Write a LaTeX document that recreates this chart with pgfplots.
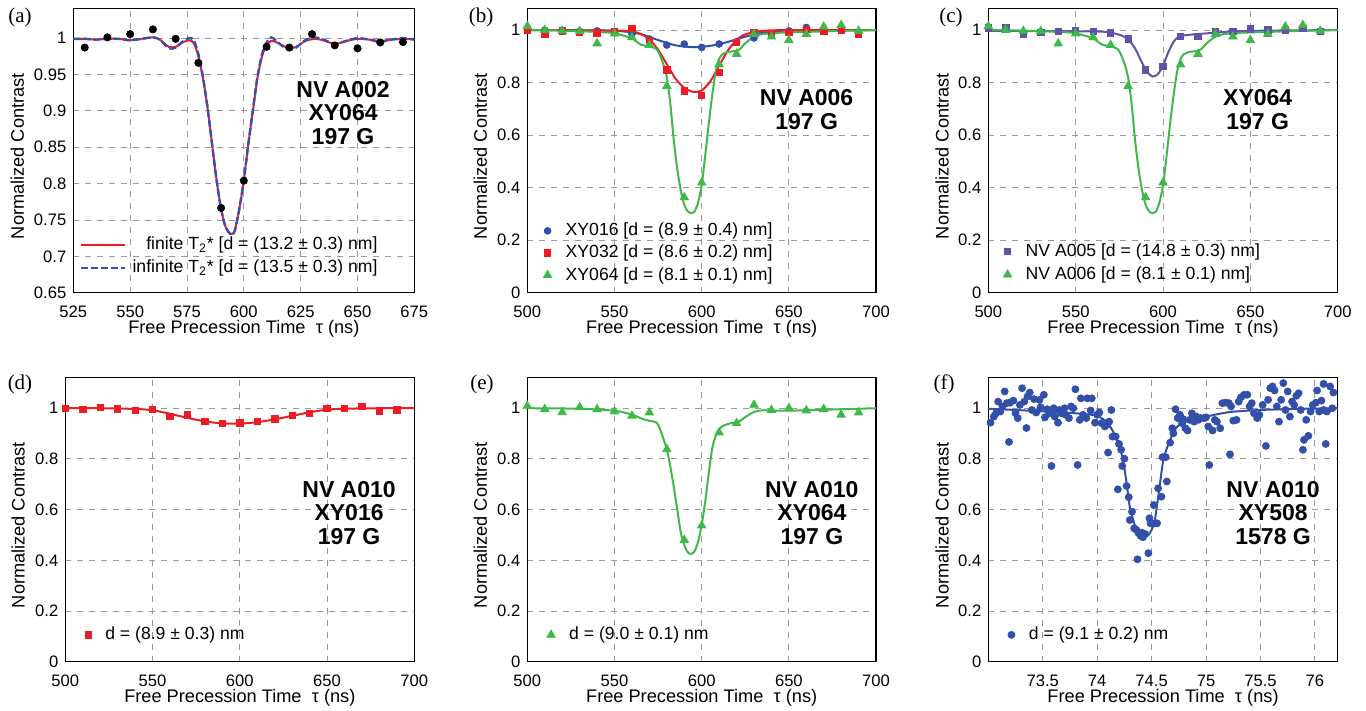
\documentclass[border=0pt]{standalone}
\usepackage{fontspec}
\setmainfont{Liberation Sans}
\newfontfamily\seriffont{Liberation Serif}
\usepackage{pgfplots}
\pgfplotsset{compat=1.18}

\definecolor{cred}{RGB}{237,28,36}
\definecolor{cblue}{RGB}{50,80,170}
\definecolor{cgreen}{RGB}{62,184,72}
\definecolor{cpurple}{RGB}{100,80,170}
\definecolor{cdash}{RGB}{50,80,185}

\tikzset{ann/.style={align=center, font=\fontsize{11.5}{11.8}\selectfont\bfseries}}
\pgfplotsset{
 panel/.style={
  scale only axis, height=142.2pt,
  axis line style={line width=0.7pt},
  grid=major, grid style={dashed, gray!80, line width=0.45pt},
  major tick length=0pt,
  tick label style={font=\fontsize{8.3}{9}\selectfont},
  xticklabel style={yshift=-3pt},
  /pgf/number format/assume math mode=true,
  label style={font=\fontsize{9.1}{10}\selectfont},
  xlabel={Free Precession Time\hspace{0.56em}τ (ns)},
  ylabel={Normalized Contrast},
  xlabel style={at={(axis description cs:0.5,-0.126)}, anchor=center},
  legend style={draw=none, fill=none, font=\fontsize{8.8}{9.5}\selectfont, row sep=2pt, column sep=5pt, anchor=north west, inner sep=0pt, nodes={inner ysep=0.5pt}},
  legend cell align=left,
 },
 fit/.style={line width=1pt, no marks, smooth, tension=0.45},
}

\begin{document}
\begin{tikzpicture}
\path[use as bounding box] (0,0) rectangle (683pt,355.5pt);

% ---------------- (a)
\begin{axis}[panel, at={(36.67pt,209.15pt)}, anchor=south west, width=170.5pt,
  xmin=525, xmax=675, ymin=0.65, ymax=1.041,
  xtick={525,550,575,600,625,650,675},
  ytick={0.65,0.7,0.75,0.8,0.85,0.9,0.95,1},
  ylabel style={at={(axis description cs:-0.164,0.48)}, anchor=center},
  legend style={at={(0.905,0.2)}, anchor=north east, row sep=2.5pt, column sep=1pt},
  legend cell align=right,
  legend image code/.code={\draw[#1] (0pt,0pt) -- (22pt,0pt);}]
\addplot[cred, fit] coordinates {
(525,0.999)(530,0.999)(535,0.998)(540,0.999)(545,0.999)(550,0.997)(555,0.999)(560,1.001)(563,0.998)(567,0.988)(570,0.988)(573,0.994)(576,0.997)(578,0.993)(580,0.975)(582,0.945)(584,0.905)(586,0.855)(588,0.805)(590,0.765)(592,0.740)(594,0.731)(595,0.731)(596,0.735)(598,0.765)(600,0.805)(602,0.855)(604,0.900)(606,0.945)(608,0.975)(610,0.990)(612,0.996)(614,0.995)(617,0.990)(620,0.986)(623,0.988)(627,0.996)(631,0.999)(635,0.997)(640,0.992)(645,0.996)(650,0.999)(655,0.998)(660,0.996)(665,0.998)(670,0.999)(675,0.998)};
\addlegendentry{finite T\textsubscript{2}* [d = (13.2 ± 0.3) nm]}
\addplot[cdash, fit, line width=1.2pt, dash pattern=on 3.5pt off 1.5pt] coordinates {
(525,0.999)(530,0.999)(535,0.998)(540,0.999)(545,0.999)(550,0.997)(555,0.999)(560,1.001)(563,0.998)(567,0.986)(570,0.987)(573,0.995)(576,1.000)(578,0.997)(580,0.978)(582,0.947)(584,0.905)(586,0.855)(588,0.805)(590,0.765)(592,0.740)(594,0.731)(595,0.731)(596,0.735)(598,0.765)(600,0.805)(602,0.855)(604,0.902)(606,0.947)(608,0.978)(610,0.994)(612,1.001)(614,0.997)(617,0.989)(620,0.984)(623,0.987)(627,0.997)(631,1.001)(635,0.998)(640,0.992)(645,0.996)(650,1.000)(655,0.998)(660,0.995)(665,0.998)(670,1.000)(675,0.998)};
\addlegendentry{infinite T\textsubscript{2}* [d = (13.5 ± 0.3) nm]}
\addplot[only marks, mark=*, black, mark size=1.8pt, forget plot] coordinates {
(530,0.987)(540,1.001)(550,1.0055)(560,1.012)(570,0.999)(580,0.966)(590,0.7665)(600,0.804)(610,0.988)(620,0.987)(630,1.0055)(640,0.990)(650,0.986)(660,0.994)(670,0.9945)};
\node[ann] at (rel axis cs:0.791,0.632) {NV A002\\XY064\\197 G};
\end{axis}

% ---------------- (b)
\begin{axis}[panel, at={(263.67pt,209.15pt)}, anchor=south west, width=174.35pt,
  xmin=500, xmax=700, ymin=0, ymax=1.083,
  xtick={500,550,600,650,700}, ytick={0,0.2,0.4,0.6,0.8,1},
  ylabel style={at={(axis description cs:-0.135,0.48)}, anchor=center},
  legend style={at={(0.045,0.25)}, row sep=2.2pt}]
\addplot[cblue, fit, forget plot] coordinates {
(500,1.0)(540,0.999)(555,0.995)(565,0.985)(575,0.962)(585,0.942)(595,0.935)(605,0.940)(615,0.955)(625,0.975)(635,0.990)(645,0.997)(660,1.0)(700,1.0)};
\addplot[cred, fit, forget plot] coordinates {
(500,1.0)(550,0.998)(560,0.995)(565,0.985)(570,0.965)(575,0.925)(580,0.870)(585,0.815)(590,0.780)(595,0.765)(600,0.770)(605,0.805)(610,0.865)(615,0.922)(620,0.962)(625,0.984)(635,0.997)(650,1.0)(700,1.0)};
\addplot[cgreen, fit, forget plot] coordinates {
(500,1.0)(520,0.998)(540,0.993)(550,0.988)(560,0.968)(565,0.945)(570,0.938)(574,0.928)(576,0.905)(578,0.870)(580,0.820)(582,0.720)(584,0.580)(586,0.470)(588,0.390)(590,0.335)(592,0.310)(594,0.303)(596,0.310)(598,0.345)(600,0.410)(602,0.520)(604,0.640)(606,0.750)(608,0.840)(610,0.890)(612,0.908)(615,0.917)(619,0.920)(622,0.928)(625,0.950)(630,0.975)(635,0.985)(645,0.990)(660,0.993)(680,0.997)(700,1.0)};
\addplot[only marks, mark=*, cblue, mark size=1.7pt] coordinates {
(500,1.0)(510,1.0)(520,1.0)(530,0.995)(540,0.997)(550,0.99)(560,0.985)(570,0.966)(580,0.943)(590,0.947)(600,0.934)(610,0.947)(620,0.955)(630,0.97)(640,0.985)(650,0.997)(660,1.01)(670,1.0)(680,1.0)(690,0.99)};
\addlegendentry{XY016 [d = (8.9 ± 0.4) nm]}
\addplot[only marks, mark=square*, cred, mark size=1.6pt] coordinates {
(500,1.0)(510,0.985)(520,0.997)(530,0.991)(540,0.99)(550,0.994)(560,1.006)(570,0.96)(580,0.848)(590,0.769)(600,0.751)(610,0.838)(620,0.952)(630,0.991)(640,0.987)(650,0.991)(660,1.003)(670,0.994)(680,1.0)(690,0.983)};
\addlegendentry{XY032 [d = (8.6 ± 0.2) nm]}
\addplot[only marks, mark=triangle*, cgreen, mark size=2.4pt] coordinates {
(500,1.015)(510,1.0)(520,0.997)(530,0.996)(540,0.949)(550,0.987)(560,0.972)(570,0.943)(580,0.787)(590,0.363)(600,0.419)(610,0.869)(620,0.909)(630,0.985)(640,0.975)(650,0.962)(660,0.985)(670,1.013)(680,1.019)(690,0.997)};
\addlegendentry{XY064 [d = (8.1 ± 0.1) nm]}
\node[ann] at (rel axis cs:0.801,0.644) {NV A006\\197 G};
\end{axis}

% ---------------- (c)
\begin{axis}[panel, at={(494.17pt,209.15pt)}, anchor=south west, width=174.7pt,
  xmin=500, xmax=700, ymin=0, ymax=1.083,
  xtick={500,550,600,650,700}, ytick={0,0.2,0.4,0.6,0.8,1},
  ylabel style={at={(axis description cs:-0.132,0.48)}, anchor=center},
  legend style={at={(0.042,0.178)}, row sep=2.8pt}]
\addplot[cpurple, fit, forget plot] coordinates {
(500,0.997)(560,0.995)(570,0.990)(576,0.980)(580,0.965)(584,0.930)(588,0.875)(591,0.840)(594,0.823)(597,0.832)(600,0.865)(603,0.915)(606,0.955)(609,0.975)(612,0.980)(620,0.985)(630,0.990)(640,0.995)(660,0.998)(700,1.0)};
\addplot[cgreen, fit, forget plot] coordinates {
(500,1.0)(520,0.998)(540,0.993)(550,0.988)(560,0.968)(565,0.945)(570,0.938)(574,0.928)(576,0.905)(578,0.870)(580,0.820)(582,0.720)(584,0.580)(586,0.470)(588,0.390)(590,0.335)(592,0.310)(594,0.303)(596,0.310)(598,0.345)(600,0.410)(602,0.520)(604,0.640)(606,0.750)(608,0.840)(610,0.890)(612,0.908)(615,0.917)(619,0.920)(622,0.928)(625,0.950)(630,0.975)(635,0.985)(645,0.990)(660,0.993)(680,0.997)(700,1.0)};
\addplot[only marks, mark=square*, cpurple, mark size=1.6pt] coordinates {
(500,1.008)(510,1.01)(520,0.985)(530,0.991)(540,0.994)(550,0.997)(560,0.994)(570,0.989)(580,0.966)(590,0.848)(600,0.861)(610,0.975)(620,0.977)(630,0.994)(640,0.994)(650,1.004)(660,1.0)(670,1.0)(680,1.006)(690,0.994)};
\addlegendentry{NV A005 [d = (14.8 ± 0.3) nm]}
\addplot[only marks, mark=triangle*, cgreen, mark size=2.4pt] coordinates {
(500,1.015)(510,1.0)(520,0.997)(530,0.996)(540,0.949)(550,0.987)(560,0.972)(570,0.943)(580,0.787)(590,0.363)(600,0.419)(610,0.869)(620,0.909)(630,0.985)(640,0.975)(650,0.962)(660,0.985)(670,1.013)(680,1.019)(690,0.997)};
\addlegendentry{NV A006 [d = (8.1 ± 0.1) nm]}
\node[ann] at (rel axis cs:0.771,0.644) {XY064\\197 G};
\end{axis}

% ---------------- (d)
\begin{axis}[panel, at={(32.67pt,24.65pt)}, anchor=south west, width=174.5pt,
  xmin=500, xmax=700, ymin=0, ymax=1.122,
  xtick={500,550,600,650,700}, ytick={0,0.2,0.4,0.6,0.8,1},
  ylabel style={at={(axis description cs:-0.135,0.48)}, anchor=center},
  legend style={at={(0.055,0.127)}}]
\addplot[cred, fit, forget plot] coordinates {
(500,1.0)(520,1.0)(540,0.997)(550,0.992)(560,0.978)(570,0.962)(580,0.948)(590,0.940)(600,0.939)(610,0.945)(620,0.956)(630,0.970)(640,0.984)(650,0.994)(660,0.998)(680,1.0)(700,1.0)};
\addplot[only marks, mark=square*, cred, mark size=1.6pt] coordinates {
(500,1.0)(510,0.996)(520,1.004)(530,0.997)(540,0.992)(550,0.995)(560,0.967)(570,0.974)(580,0.947)(590,0.939)(600,0.942)(610,0.947)(620,0.958)(630,0.972)(640,0.980)(650,0.999)(660,1.0)(670,1.007)(680,0.988)(690,0.993)};
\addlegendentry{d = (8.9 ± 0.3) nm}
\node[ann] at (rel axis cs:0.813,0.523) {NV A010\\XY016\\197 G};
\end{axis}

% ---------------- (e)
\begin{axis}[panel, at={(263.67pt,24.65pt)}, anchor=south west, width=174.35pt,
  xmin=500, xmax=700, ymin=0, ymax=1.122,
  xtick={500,550,600,650,700}, ytick={0,0.2,0.4,0.6,0.8,1},
  ylabel style={at={(axis description cs:-0.135,0.48)}, anchor=center},
  legend style={at={(0.055,0.127)}}]
\addplot[cgreen, fit, forget plot] coordinates {
(500,1.0)(530,0.998)(550,0.990)(560,0.975)(566,0.958)(570,0.950)(574,0.944)(576,0.920)(578,0.880)(580,0.838)(582,0.770)(584,0.690)(586,0.600)(588,0.510)(590,0.460)(592,0.432)(594,0.425)(596,0.437)(598,0.475)(600,0.540)(602,0.630)(604,0.740)(606,0.840)(608,0.890)(610,0.918)(613,0.933)(617,0.941)(621,0.946)(625,0.965)(630,0.985)(635,0.992)(645,0.990)(660,0.992)(700,1.0)};
\addplot[only marks, mark=triangle*, cgreen, mark size=2.4pt] coordinates {
(500,1.009)(510,0.996)(520,0.984)(530,1.004)(540,0.996)(550,0.987)(560,0.970)(570,0.983)(580,0.838)(590,0.480)(600,0.537)(610,0.904)(620,0.941)(630,1.013)(640,0.993)(650,1.0)(660,0.991)(670,0.997)(680,0.974)(690,0.983)};
\addlegendentry{d = (9.0 ± 0.1) nm}
\node[ann] at (rel axis cs:0.816,0.523) {NV A010\\XY064\\197 G};
\end{axis}

% ---------------- (f)
\begin{axis}[panel, at={(494.17pt,24.65pt)}, anchor=south west, width=174.7pt,
  xmin=73.0, xmax=76.21, ymin=0, ymax=1.122,
  xtick={73.5,74,74.5,75,75.5,76}, ytick={0,0.2,0.4,0.6,0.8,1},
  ylabel style={at={(axis description cs:-0.132,0.48)}, anchor=center},
  legend style={at={(0.055,0.127)}}]
\addplot[cblue, fit, forget plot] coordinates {
(73.0,0.998)(73.3,0.992)(73.6,0.985)(73.8,0.980)(73.98,0.972)(74.05,0.958)(74.1,0.940)(74.17,0.888)(74.23,0.810)(74.27,0.705)(74.3,0.610)(74.35,0.533)(74.4,0.495)(74.43,0.487)(74.47,0.500)(74.5,0.520)(74.53,0.560)(74.57,0.680)(74.61,0.800)(74.67,0.875)(74.73,0.925)(74.8,0.945)(74.87,0.954)(75.0,0.967)(75.22,0.985)(75.5,0.993)(75.8,0.997)(76.21,1.0)};
\addplot[only marks, mark=*, cblue, mark size=1.75pt] coordinates {
(73.02,0.943)(73.05,0.967)(73.07,0.98)(73.09,1.026)(73.11,0.987)(73.13,1.007)(73.15,1.066)(73.17,1.02)(73.19,0.867)(73.20,1.022)(73.23,1.03)(73.25,0.98)(73.27,0.961)(73.29,1.013)(73.31,1.079)(73.33,1.026)(73.35,0.922)(73.36,1.046)(73.38,1.062)(73.40,0.993)(73.42,1.036)(73.44,0.983)(73.47,1.033)(73.48,1.004)(73.51,1.053)(73.52,0.964)(73.54,0.996)(73.56,0.98)(73.58,0.772)(73.60,1.0)(73.61,0.967)(73.64,0.943)(73.65,0.993)(73.67,0.98)(73.70,1.0)(73.71,0.974)(73.74,0.961)(73.76,1.007)(73.78,1.0)(73.80,1.075)(73.82,0.776)(73.84,0.954)(73.85,1.039)(73.87,0.974)(73.90,0.961)(73.91,1.039)(73.94,0.991)(73.95,1.039)(73.98,0.943)(74.0,0.974)(74.02,0.983)(74.04,0.941)(74.07,0.928)(74.09,0.934)(74.10,0.825)(74.11,0.947)(74.13,0.993)(74.14,0.888)(74.17,0.888)(74.19,0.680)(74.20,0.859)(74.22,0.836)(74.23,0.772)(74.25,0.801)(74.27,0.693)(74.29,0.649)(74.30,0.559)(74.32,0.592)(74.34,0.526)(74.36,0.52)(74.37,0.404)(74.38,0.507)(74.40,0.496)(74.41,0.509)(74.42,0.491)(74.44,0.504)(74.47,0.428)(74.48,0.566)(74.49,0.546)(74.52,0.618)(74.53,0.546)(74.55,0.546)(74.56,0.684)(74.59,0.651)(74.60,0.807)(74.63,0.807)(74.64,0.711)(74.67,0.864)(74.69,0.921)(74.70,0.901)(74.72,0.996)(74.74,0.961)(74.76,0.974)(74.78,0.941)(74.79,0.957)(74.81,0.921)(74.83,0.912)(74.85,0.954)(74.87,0.98)(74.89,0.947)(74.91,0.967)(74.93,0.954)(74.95,0.961)(74.98,0.961)(75.00,0.964)(75.02,0.928)(75.03,0.776)(75.06,0.912)(75.08,0.954)(75.10,0.947)(75.13,0.921)(75.15,1.02)(75.18,1.022)(75.21,1.02)(75.22,0.818)(75.23,1.007)(75.25,0.951)(75.28,0.954)(75.30,1.026)(75.32,1.043)(75.35,1.053)(75.38,1.053)(75.40,1.007)(75.42,1.02)(75.44,0.98)(75.47,0.961)(75.49,0.974)(75.52,1.013)(75.55,0.851)(75.57,1.033)(75.59,1.079)(75.61,1.086)(75.63,1.07)(75.65,1.007)(75.67,0.947)(75.69,1.033)(75.71,1.099)(75.73,0.993)(75.75,1.066)(75.77,0.967)(75.79,1.026)(75.81,1.013)(75.83,1.049)(75.85,1.059)(75.87,0.993)(75.89,0.836)(75.90,0.875)(75.92,0.954)(75.94,0.891)(75.96,0.987)(75.98,1.013)(76.01,1.022)(76.02,1.07)(76.04,0.987)(76.06,1.03)(76.08,1.096)(76.08,0.993)(76.10,0.859)(76.11,0.987)(76.14,1.086)(76.16,1.0)(76.17,1.062)};
\addlegendentry{d = (9.1 ± 0.2) nm}
\node[ann] at (rel axis cs:0.815,0.523) {NV A010\\XY508\\1578 G};
\end{axis}

% panel letters
\begin{scope}[every node/.style={font=\seriffont\fontsize{10.5}{12}\selectfont}]
\node at (10pt,347pt) {(a)};
\node at (240.5pt,347pt) {(b)};
\node at (475.5pt,347pt) {(c)};
\node at (10pt,163.5pt) {(d)};
\node at (241pt,163.5pt) {(e)};
\node at (472pt,163.5pt) {(f)};
\end{scope}
\end{tikzpicture}
\end{document}
